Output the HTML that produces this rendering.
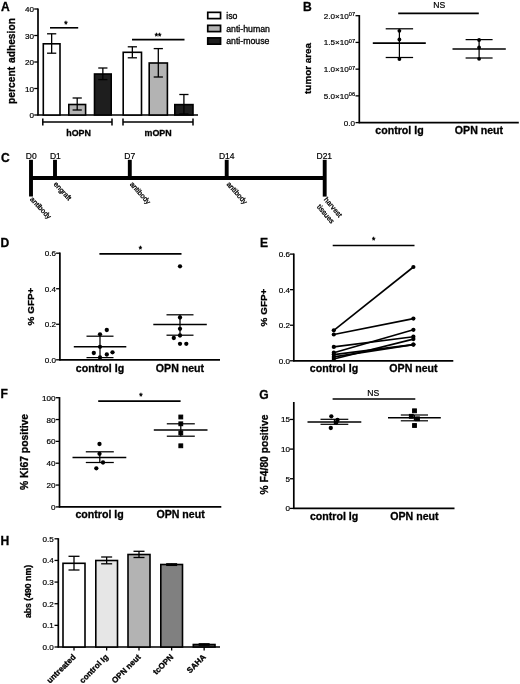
<!DOCTYPE html>
<html><head><meta charset="utf-8"><title>Figure</title>
<style>
html,body{margin:0;padding:0;background:#fff;}
svg{display:block;font-family:"Liberation Sans",sans-serif;}
svg line,svg rect{stroke:#000;}
svg text{fill:#000;stroke:#000;stroke-width:0.2px;}
svg text.b{stroke-width:0.3px;}
</style></head>
<body>
<svg width="520" height="684" viewBox="0 0 520 684">
<rect x="0" y="0" width="520" height="684" fill="#fff" stroke="none" style="stroke:none"/>
<text x="0.90" y="10.90" font-size="12.1" text-anchor="start" font-weight="bold" class="b" >A</text>
<line x1="38.00" y1="8.40" x2="38.00" y2="115.60" stroke-width="1.7" />
<line x1="37.40" y1="115.00" x2="198.00" y2="115.00" stroke-width="1.7" />
<line x1="34.20" y1="115.00" x2="38.00" y2="115.00" stroke-width="1.3" />
<text x="34.10" y="118.00" font-size="8.1" text-anchor="end" >0</text>
<line x1="34.20" y1="88.50" x2="38.00" y2="88.50" stroke-width="1.3" />
<text x="34.10" y="91.50" font-size="8.1" text-anchor="end" >10</text>
<line x1="34.20" y1="62.00" x2="38.00" y2="62.00" stroke-width="1.3" />
<text x="34.10" y="65.00" font-size="8.1" text-anchor="end" >20</text>
<line x1="34.20" y1="35.50" x2="38.00" y2="35.50" stroke-width="1.3" />
<text x="34.10" y="38.50" font-size="8.1" text-anchor="end" >30</text>
<line x1="34.20" y1="9.00" x2="38.00" y2="9.00" stroke-width="1.3" />
<text x="34.10" y="12.00" font-size="8.1" text-anchor="end" >40</text>
<text x="14.90" y="61.00" font-size="10.25" text-anchor="middle" font-weight="bold" class="b" transform="rotate(-90 14.90 61.00)" word-spacing="1">percent adhesion</text>
<rect x="43.30" y="43.80" width="16.70" height="71.20" fill="#fff" stroke-width="1.6"/>
<line x1="51.65" y1="33.80" x2="51.65" y2="53.20" stroke-width="1.3" />
<line x1="47.05" y1="33.80" x2="56.25" y2="33.80" stroke-width="1.3" />
<line x1="47.05" y1="53.20" x2="56.25" y2="53.20" stroke-width="1.3" />
<rect x="68.80" y="104.50" width="16.80" height="10.50" fill="#b3b3b3" stroke-width="1.6"/>
<line x1="77.20" y1="98.00" x2="77.20" y2="110.00" stroke-width="1.3" />
<line x1="72.60" y1="98.00" x2="81.80" y2="98.00" stroke-width="1.3" />
<line x1="72.60" y1="110.00" x2="81.80" y2="110.00" stroke-width="1.3" />
<rect x="94.50" y="74.00" width="16.70" height="41.00" fill="#1e1e1e" stroke-width="1.6"/>
<line x1="102.85" y1="68.00" x2="102.85" y2="79.60" stroke-width="1.3" />
<line x1="98.25" y1="68.00" x2="107.45" y2="68.00" stroke-width="1.3" />
<line x1="98.25" y1="79.60" x2="107.45" y2="79.60" stroke-width="1.3" />
<rect x="123.20" y="52.30" width="18.30" height="62.70" fill="#fff" stroke-width="1.6"/>
<line x1="132.35" y1="46.80" x2="132.35" y2="57.80" stroke-width="1.3" />
<line x1="127.75" y1="46.80" x2="136.95" y2="46.80" stroke-width="1.3" />
<line x1="127.75" y1="57.80" x2="136.95" y2="57.80" stroke-width="1.3" />
<rect x="149.20" y="63.00" width="18.20" height="52.00" fill="#b3b3b3" stroke-width="1.6"/>
<line x1="158.30" y1="48.60" x2="158.30" y2="77.00" stroke-width="1.3" />
<line x1="153.70" y1="48.60" x2="162.90" y2="48.60" stroke-width="1.3" />
<line x1="153.70" y1="77.00" x2="162.90" y2="77.00" stroke-width="1.3" />
<rect x="174.80" y="104.60" width="18.20" height="10.40" fill="#1e1e1e" stroke-width="1.6"/>
<line x1="183.90" y1="94.50" x2="183.90" y2="114.00" stroke-width="1.3" />
<line x1="179.30" y1="94.50" x2="188.50" y2="94.50" stroke-width="1.3" />
<line x1="179.30" y1="114.00" x2="188.50" y2="114.00" stroke-width="1.3" />
<line x1="50.00" y1="27.80" x2="78.20" y2="27.80" stroke-width="1.6" />
<text x="66.00" y="27.30" font-size="8.5" text-anchor="middle" style="stroke-width:0.45px">*</text>
<line x1="132.00" y1="39.60" x2="184.50" y2="39.60" stroke-width="1.6" />
<text x="158.00" y="38.90" font-size="8.5" text-anchor="middle" style="stroke-width:0.45px">**</text>
<line x1="42.80" y1="122.00" x2="112.00" y2="122.00" stroke-width="1.5" />
<line x1="42.80" y1="118.50" x2="42.80" y2="125.50" stroke-width="1.5" />
<line x1="112.00" y1="118.50" x2="112.00" y2="125.50" stroke-width="1.5" />
<line x1="123.00" y1="122.00" x2="193.00" y2="122.00" stroke-width="1.5" />
<line x1="123.00" y1="118.50" x2="123.00" y2="125.50" stroke-width="1.5" />
<line x1="193.00" y1="118.50" x2="193.00" y2="125.50" stroke-width="1.5" />
<text x="78.60" y="135.80" font-size="8.9" text-anchor="middle" font-weight="bold" class="b" >hOPN</text>
<text x="158.10" y="135.80" font-size="8.9" text-anchor="middle" font-weight="bold" class="b" >mOPN</text>
<rect x="207.75" y="12.35" width="12.80" height="6.25" fill="#fff" stroke-width="1.7"/>
<text x="226.20" y="18.75" font-size="8.75" text-anchor="start" style="stroke-width:0.3px">iso</text>
<rect x="207.75" y="25.35" width="12.80" height="6.25" fill="#b3b3b3" stroke-width="1.7"/>
<text x="226.20" y="31.75" font-size="8.75" text-anchor="start" style="stroke-width:0.3px">anti-human</text>
<rect x="207.75" y="37.90" width="12.80" height="6.25" fill="#1e1e1e" stroke-width="1.7"/>
<text x="226.20" y="44.30" font-size="8.75" text-anchor="start" style="stroke-width:0.3px">anti-mouse</text>
<text x="302.90" y="10.50" font-size="12.1" text-anchor="start" font-weight="bold" class="b" >B</text>
<line x1="359.30" y1="15.10" x2="359.30" y2="123.20" stroke-width="1.7" />
<line x1="358.70" y1="122.60" x2="518.80" y2="122.60" stroke-width="1.7" />
<line x1="355.50" y1="122.60" x2="359.30" y2="122.60" stroke-width="1.3" />
<text x="355.00" y="125.60" font-size="8.1" text-anchor="end" >0.0</text>
<line x1="355.50" y1="95.88" x2="359.30" y2="95.88" stroke-width="1.3" />
<text x="355.00" y="98.88" font-size="8.1" text-anchor="end" >5.0×10<tspan font-size="5.6" dy="-2.6">06</tspan></text>
<line x1="355.50" y1="69.15" x2="359.30" y2="69.15" stroke-width="1.3" />
<text x="355.00" y="72.15" font-size="8.1" text-anchor="end" >1.0×10<tspan font-size="5.6" dy="-2.6">07</tspan></text>
<line x1="355.50" y1="42.42" x2="359.30" y2="42.42" stroke-width="1.3" />
<text x="355.00" y="45.42" font-size="8.1" text-anchor="end" >1.5×10<tspan font-size="5.6" dy="-2.6">07</tspan></text>
<line x1="355.50" y1="15.70" x2="359.30" y2="15.70" stroke-width="1.3" />
<text x="355.00" y="18.70" font-size="8.1" text-anchor="end" >2.0×10<tspan font-size="5.6" dy="-2.6">07</tspan></text>
<text x="311.30" y="68.40" font-size="9.9" text-anchor="middle" font-weight="bold" class="b" transform="rotate(-90 311.30 68.40)" >tumor area</text>
<line x1="398.20" y1="13.40" x2="478.80" y2="13.40" stroke-width="1.6" />
<text x="439.30" y="7.50" font-size="8.6" text-anchor="middle" >NS</text>
<line x1="372.80" y1="43.10" x2="425.80" y2="43.10" stroke-width="1.6" />
<line x1="399.40" y1="28.80" x2="399.40" y2="57.50" stroke-width="1.25" />
<line x1="385.70" y1="28.80" x2="413.10" y2="28.80" stroke-width="1.25" />
<line x1="385.70" y1="57.50" x2="413.10" y2="57.50" stroke-width="1.25" />
<circle cx="399.40" cy="30.80" r="1.9" fill="#000" stroke="none"/>
<circle cx="399.40" cy="39.50" r="1.9" fill="#000" stroke="none"/>
<circle cx="399.40" cy="59.00" r="1.9" fill="#000" stroke="none"/>
<line x1="452.50" y1="49.00" x2="505.80" y2="49.00" stroke-width="1.6" />
<line x1="479.10" y1="39.60" x2="479.10" y2="58.00" stroke-width="1.25" />
<line x1="465.60" y1="39.60" x2="492.60" y2="39.60" stroke-width="1.25" />
<line x1="465.60" y1="58.00" x2="492.60" y2="58.00" stroke-width="1.25" />
<circle cx="479.10" cy="40.00" r="1.9" fill="#000" stroke="none"/>
<circle cx="479.10" cy="47.50" r="1.9" fill="#000" stroke="none"/>
<circle cx="479.10" cy="58.80" r="1.9" fill="#000" stroke="none"/>
<text x="399.50" y="133.60" font-size="10.6" text-anchor="middle" font-weight="bold" class="b" >control Ig</text>
<text x="479.00" y="133.60" font-size="10.6" text-anchor="middle" font-weight="bold" class="b" >OPN neut</text>
<text x="0.90" y="162.00" font-size="12.1" text-anchor="start" font-weight="bold" class="b" >C</text>
<line x1="31.00" y1="159.80" x2="31.00" y2="196.50" stroke-width="3.9" />
<line x1="31.00" y1="178.00" x2="324.70" y2="178.00" stroke-width="3.9" />
<line x1="324.70" y1="159.80" x2="324.70" y2="196.60" stroke-width="3.9" />
<line x1="55.00" y1="159.80" x2="55.00" y2="178.00" stroke-width="3.9" />
<line x1="129.80" y1="159.80" x2="129.80" y2="178.00" stroke-width="3.9" />
<line x1="226.70" y1="159.80" x2="226.70" y2="178.00" stroke-width="3.9" />
<text x="31.20" y="158.60" font-size="8.5" text-anchor="middle" >D0</text>
<text x="55.40" y="158.60" font-size="8.5" text-anchor="middle" >D1</text>
<text x="129.80" y="158.60" font-size="8.5" text-anchor="middle" >D7</text>
<text x="226.70" y="158.60" font-size="8.5" text-anchor="middle" >D14</text>
<text x="324.30" y="158.60" font-size="8.5" text-anchor="middle" >D21</text>
<text x="29.60" y="199.60" font-size="7.2" text-anchor="start" transform="rotate(47 29.60 199.60)" style="stroke-width:0.3px">antibody</text>
<text x="53.20" y="184.60" font-size="7.2" text-anchor="start" transform="rotate(47 53.20 184.60)" style="stroke-width:0.3px">engraft</text>
<text x="129.40" y="184.40" font-size="7.2" text-anchor="start" transform="rotate(48.5 129.40 184.40)" style="stroke-width:0.3px">antibody</text>
<text x="226.20" y="184.40" font-size="7.2" text-anchor="start" transform="rotate(48.5 226.20 184.40)" style="stroke-width:0.3px">antibody</text>
<text x="323.60" y="199.80" font-size="7.2" text-anchor="start" transform="rotate(49.5 323.60 199.80)" style="stroke-width:0.3px">harvest</text>
<text x="316.60" y="207.00" font-size="7.2" text-anchor="start" transform="rotate(49.5 316.60 207.00)" style="stroke-width:0.3px">tissues</text>
<text x="0.50" y="247.00" font-size="12.1" text-anchor="start" font-weight="bold" class="b" >D</text>
<line x1="59.90" y1="252.60" x2="59.90" y2="360.40" stroke-width="1.7" />
<line x1="59.30" y1="359.80" x2="220.00" y2="359.80" stroke-width="1.7" />
<line x1="56.10" y1="359.80" x2="59.90" y2="359.80" stroke-width="1.3" />
<text x="56.00" y="362.80" font-size="8.1" text-anchor="end" >0.0</text>
<line x1="56.10" y1="324.27" x2="59.90" y2="324.27" stroke-width="1.3" />
<text x="56.00" y="327.27" font-size="8.1" text-anchor="end" >0.2</text>
<line x1="56.10" y1="288.73" x2="59.90" y2="288.73" stroke-width="1.3" />
<text x="56.00" y="291.73" font-size="8.1" text-anchor="end" >0.4</text>
<line x1="56.10" y1="253.20" x2="59.90" y2="253.20" stroke-width="1.3" />
<text x="56.00" y="256.20" font-size="8.1" text-anchor="end" >0.6</text>
<text x="34.00" y="306.50" font-size="9.95" text-anchor="middle" font-weight="bold" class="b" transform="rotate(-90 34.00 306.50)" >% GFP+</text>
<line x1="99.40" y1="253.90" x2="181.50" y2="253.90" stroke-width="1.6" />
<text x="140.30" y="251.50" font-size="8.5" text-anchor="middle" style="stroke-width:0.45px">*</text>
<line x1="73.80" y1="346.80" x2="126.30" y2="346.80" stroke-width="1.6" />
<line x1="100.00" y1="336.20" x2="100.00" y2="357.60" stroke-width="1.25" />
<line x1="86.50" y1="336.20" x2="113.50" y2="336.20" stroke-width="1.25" />
<line x1="86.50" y1="357.60" x2="113.50" y2="357.60" stroke-width="1.25" />
<circle cx="100.00" cy="334.30" r="2.15" fill="#000" stroke="none"/>
<circle cx="106.80" cy="330.00" r="2.15" fill="#000" stroke="none"/>
<circle cx="100.00" cy="346.80" r="2.15" fill="#000" stroke="none"/>
<circle cx="93.80" cy="353.00" r="2.15" fill="#000" stroke="none"/>
<circle cx="106.80" cy="354.50" r="2.15" fill="#000" stroke="none"/>
<circle cx="112.50" cy="352.30" r="2.15" fill="#000" stroke="none"/>
<circle cx="100.00" cy="357.40" r="2.15" fill="#000" stroke="none"/>
<line x1="153.30" y1="324.50" x2="206.80" y2="324.50" stroke-width="1.6" />
<line x1="180.00" y1="314.80" x2="180.00" y2="335.20" stroke-width="1.25" />
<line x1="166.50" y1="314.80" x2="193.50" y2="314.80" stroke-width="1.25" />
<line x1="166.50" y1="335.20" x2="193.50" y2="335.20" stroke-width="1.25" />
<circle cx="180.00" cy="266.30" r="2.15" fill="#000" stroke="none"/>
<circle cx="180.00" cy="317.50" r="2.15" fill="#000" stroke="none"/>
<circle cx="180.00" cy="328.80" r="2.15" fill="#000" stroke="none"/>
<circle cx="180.00" cy="335.50" r="2.15" fill="#000" stroke="none"/>
<circle cx="173.80" cy="338.00" r="2.15" fill="#000" stroke="none"/>
<circle cx="180.00" cy="343.80" r="2.15" fill="#000" stroke="none"/>
<circle cx="186.30" cy="343.80" r="2.15" fill="#000" stroke="none"/>
<text x="100.00" y="371.50" font-size="10.6" text-anchor="middle" font-weight="bold" class="b" >control Ig</text>
<text x="180.00" y="371.50" font-size="10.6" text-anchor="middle" font-weight="bold" class="b" >OPN neut</text>
<text x="260.00" y="247.30" font-size="12.1" text-anchor="start" font-weight="bold" class="b" >E</text>
<line x1="293.80" y1="253.50" x2="293.80" y2="361.40" stroke-width="1.7" />
<line x1="293.20" y1="360.80" x2="453.30" y2="360.80" stroke-width="1.7" />
<line x1="290.00" y1="360.80" x2="293.80" y2="360.80" stroke-width="1.3" />
<text x="289.90" y="363.80" font-size="8.1" text-anchor="end" >0.0</text>
<line x1="290.00" y1="325.23" x2="293.80" y2="325.23" stroke-width="1.3" />
<text x="289.90" y="328.23" font-size="8.1" text-anchor="end" >0.2</text>
<line x1="290.00" y1="289.67" x2="293.80" y2="289.67" stroke-width="1.3" />
<text x="289.90" y="292.67" font-size="8.1" text-anchor="end" >0.4</text>
<line x1="290.00" y1="254.10" x2="293.80" y2="254.10" stroke-width="1.3" />
<text x="289.90" y="257.10" font-size="8.1" text-anchor="end" >0.6</text>
<text x="266.90" y="307.50" font-size="9.95" text-anchor="middle" font-weight="bold" class="b" transform="rotate(-90 266.90 307.50)" >% GFP+</text>
<line x1="332.70" y1="245.50" x2="414.50" y2="245.50" stroke-width="1.6" />
<text x="373.60" y="243.20" font-size="8.5" text-anchor="middle" style="stroke-width:0.45px">*</text>
<line x1="333.80" y1="330.30" x2="413.40" y2="267.00" stroke-width="1.6" />
<circle cx="333.80" cy="330.30" r="2.1" fill="#000" stroke="none"/>
<circle cx="413.40" cy="267.00" r="2.1" fill="#000" stroke="none"/>
<line x1="333.80" y1="334.50" x2="413.40" y2="318.60" stroke-width="1.6" />
<circle cx="333.80" cy="334.50" r="2.1" fill="#000" stroke="none"/>
<circle cx="413.40" cy="318.60" r="2.1" fill="#000" stroke="none"/>
<line x1="333.80" y1="346.90" x2="413.40" y2="336.70" stroke-width="1.6" />
<circle cx="333.80" cy="346.90" r="2.1" fill="#000" stroke="none"/>
<circle cx="413.40" cy="336.70" r="2.1" fill="#000" stroke="none"/>
<line x1="333.80" y1="352.70" x2="413.40" y2="329.80" stroke-width="1.6" />
<circle cx="333.80" cy="352.70" r="2.1" fill="#000" stroke="none"/>
<circle cx="413.40" cy="329.80" r="2.1" fill="#000" stroke="none"/>
<line x1="333.80" y1="354.60" x2="413.40" y2="344.60" stroke-width="1.6" />
<circle cx="333.80" cy="354.60" r="2.1" fill="#000" stroke="none"/>
<circle cx="413.40" cy="344.60" r="2.1" fill="#000" stroke="none"/>
<line x1="333.80" y1="356.90" x2="413.40" y2="344.60" stroke-width="1.6" />
<circle cx="333.80" cy="356.90" r="2.1" fill="#000" stroke="none"/>
<circle cx="413.40" cy="344.60" r="2.1" fill="#000" stroke="none"/>
<line x1="333.80" y1="359.00" x2="413.40" y2="339.10" stroke-width="1.6" />
<circle cx="333.80" cy="359.00" r="2.1" fill="#000" stroke="none"/>
<circle cx="413.40" cy="339.10" r="2.1" fill="#000" stroke="none"/>
<text x="334.00" y="372.00" font-size="10.6" text-anchor="middle" font-weight="bold" class="b" >control Ig</text>
<text x="413.50" y="372.00" font-size="10.6" text-anchor="middle" font-weight="bold" class="b" >OPN neut</text>
<text x="0.60" y="398.20" font-size="12.1" text-anchor="start" font-weight="bold" class="b" >F</text>
<line x1="59.50" y1="397.10" x2="59.50" y2="507.50" stroke-width="1.7" />
<line x1="58.90" y1="506.90" x2="221.30" y2="506.90" stroke-width="1.7" />
<line x1="55.70" y1="506.90" x2="59.50" y2="506.90" stroke-width="1.3" />
<text x="55.60" y="509.90" font-size="8.1" text-anchor="end" >0</text>
<line x1="55.70" y1="485.06" x2="59.50" y2="485.06" stroke-width="1.3" />
<text x="55.60" y="488.06" font-size="8.1" text-anchor="end" >20</text>
<line x1="55.70" y1="463.22" x2="59.50" y2="463.22" stroke-width="1.3" />
<text x="55.60" y="466.22" font-size="8.1" text-anchor="end" >40</text>
<line x1="55.70" y1="441.38" x2="59.50" y2="441.38" stroke-width="1.3" />
<text x="55.60" y="444.38" font-size="8.1" text-anchor="end" >60</text>
<line x1="55.70" y1="419.54" x2="59.50" y2="419.54" stroke-width="1.3" />
<text x="55.60" y="422.54" font-size="8.1" text-anchor="end" >80</text>
<line x1="55.70" y1="397.70" x2="59.50" y2="397.70" stroke-width="1.3" />
<text x="55.60" y="400.70" font-size="8.1" text-anchor="end" >100</text>
<text x="27.50" y="452.00" font-size="10.4" text-anchor="middle" font-weight="bold" class="b" transform="rotate(-90 27.50 452.00)" >% Ki67 positive</text>
<line x1="98.20" y1="401.10" x2="180.60" y2="401.10" stroke-width="1.6" />
<text x="140.90" y="399.20" font-size="8.5" text-anchor="middle" style="stroke-width:0.45px">*</text>
<line x1="72.50" y1="457.50" x2="126.30" y2="457.50" stroke-width="1.5" />
<line x1="99.80" y1="451.80" x2="99.80" y2="462.50" stroke-width="1.25" />
<line x1="85.80" y1="451.80" x2="113.80" y2="451.80" stroke-width="1.25" />
<line x1="85.80" y1="462.50" x2="113.80" y2="462.50" stroke-width="1.25" />
<circle cx="99.50" cy="444.00" r="2.15" fill="#000" stroke="none"/>
<circle cx="99.50" cy="453.80" r="2.15" fill="#000" stroke="none"/>
<circle cx="103.00" cy="462.50" r="2.15" fill="#000" stroke="none"/>
<circle cx="96.30" cy="468.30" r="2.15" fill="#000" stroke="none"/>
<line x1="153.80" y1="430.00" x2="207.50" y2="430.00" stroke-width="1.5" />
<line x1="180.80" y1="423.80" x2="180.80" y2="436.20" stroke-width="1.25" />
<line x1="166.80" y1="423.80" x2="194.80" y2="423.80" stroke-width="1.25" />
<line x1="166.80" y1="436.20" x2="194.80" y2="436.20" stroke-width="1.25" />
<rect x="178.90" y="415.10" width="3.8" height="3.8" fill="#000" stroke="none"/>
<rect x="178.90" y="421.90" width="3.8" height="3.8" fill="#000" stroke="none"/>
<rect x="178.90" y="431.10" width="3.8" height="3.8" fill="#000" stroke="none"/>
<rect x="178.90" y="443.90" width="3.8" height="3.8" fill="#000" stroke="none"/>
<text x="99.60" y="518.20" font-size="10.6" text-anchor="middle" font-weight="bold" class="b" >control Ig</text>
<text x="180.60" y="518.20" font-size="10.6" text-anchor="middle" font-weight="bold" class="b" >OPN neut</text>
<text x="259.30" y="398.60" font-size="12.1" text-anchor="start" font-weight="bold" class="b" >G</text>
<line x1="293.80" y1="402.00" x2="293.80" y2="509.00" stroke-width="1.7" />
<line x1="293.20" y1="508.40" x2="454.50" y2="508.40" stroke-width="1.7" />
<line x1="290.00" y1="508.40" x2="293.80" y2="508.40" stroke-width="1.3" />
<text x="289.90" y="511.40" font-size="8.1" text-anchor="end" >0</text>
<line x1="290.00" y1="478.75" x2="293.80" y2="478.75" stroke-width="1.3" />
<text x="289.90" y="481.75" font-size="8.1" text-anchor="end" >5</text>
<line x1="290.00" y1="449.10" x2="293.80" y2="449.10" stroke-width="1.3" />
<text x="289.90" y="452.10" font-size="8.1" text-anchor="end" >10</text>
<line x1="290.00" y1="419.45" x2="293.80" y2="419.45" stroke-width="1.3" />
<text x="289.90" y="422.45" font-size="8.1" text-anchor="end" >15</text>
<text x="268.20" y="454.50" font-size="10.25" text-anchor="middle" font-weight="bold" class="b" transform="rotate(-90 268.20 454.50)" >% F4/80 positive</text>
<line x1="332.60" y1="399.00" x2="415.30" y2="399.00" stroke-width="1.6" />
<text x="373.20" y="395.80" font-size="8.6" text-anchor="middle" >NS</text>
<line x1="307.50" y1="422.00" x2="361.30" y2="422.00" stroke-width="1.4" />
<line x1="320.50" y1="419.30" x2="348.30" y2="419.30" stroke-width="1.2" />
<line x1="320.50" y1="424.30" x2="348.30" y2="424.30" stroke-width="1.2" />
<line x1="334.40" y1="419.30" x2="334.40" y2="424.30" stroke-width="1.2" />
<circle cx="331.30" cy="416.30" r="2.15" fill="#000" stroke="none"/>
<circle cx="337.50" cy="420.00" r="2.15" fill="#000" stroke="none"/>
<circle cx="336.30" cy="422.50" r="2.15" fill="#000" stroke="none"/>
<circle cx="330.80" cy="428.00" r="2.15" fill="#000" stroke="none"/>
<line x1="388.00" y1="417.80" x2="440.80" y2="417.80" stroke-width="1.4" />
<line x1="400.80" y1="415.00" x2="428.00" y2="415.00" stroke-width="1.2" />
<line x1="400.80" y1="420.80" x2="428.00" y2="420.80" stroke-width="1.2" />
<line x1="414.40" y1="415.00" x2="414.40" y2="420.80" stroke-width="1.2" />
<rect x="412.60" y="408.90" width="3.8" height="3.8" fill="#000" stroke="none"/>
<rect x="409.40" y="414.40" width="3.8" height="3.8" fill="#000" stroke="none"/>
<rect x="415.60" y="416.90" width="3.8" height="3.8" fill="#000" stroke="none"/>
<rect x="412.60" y="423.60" width="3.8" height="3.8" fill="#000" stroke="none"/>
<text x="334.10" y="520.30" font-size="10.6" text-anchor="middle" font-weight="bold" class="b" >control Ig</text>
<text x="414.40" y="520.30" font-size="10.6" text-anchor="middle" font-weight="bold" class="b" >OPN neut</text>
<text x="0.60" y="545.40" font-size="12.1" text-anchor="start" font-weight="bold" class="b" >H</text>
<line x1="58.30" y1="538.20" x2="58.30" y2="647.60" stroke-width="1.7" />
<line x1="57.70" y1="647.00" x2="220.00" y2="647.00" stroke-width="1.7" />
<line x1="54.50" y1="647.00" x2="58.30" y2="647.00" stroke-width="1.3" />
<text x="53.80" y="650.00" font-size="8.1" text-anchor="end" >0.0</text>
<line x1="54.50" y1="625.36" x2="58.30" y2="625.36" stroke-width="1.3" />
<text x="53.80" y="628.36" font-size="8.1" text-anchor="end" >0.1</text>
<line x1="54.50" y1="603.72" x2="58.30" y2="603.72" stroke-width="1.3" />
<text x="53.80" y="606.72" font-size="8.1" text-anchor="end" >0.2</text>
<line x1="54.50" y1="582.08" x2="58.30" y2="582.08" stroke-width="1.3" />
<text x="53.80" y="585.08" font-size="8.1" text-anchor="end" >0.3</text>
<line x1="54.50" y1="560.44" x2="58.30" y2="560.44" stroke-width="1.3" />
<text x="53.80" y="563.44" font-size="8.1" text-anchor="end" >0.4</text>
<line x1="54.50" y1="538.80" x2="58.30" y2="538.80" stroke-width="1.3" />
<text x="53.80" y="541.80" font-size="8.1" text-anchor="end" >0.5</text>
<text x="30.60" y="591.50" font-size="8.7" text-anchor="middle" font-weight="bold" class="b" transform="rotate(-90 30.60 591.50)" >abs (490 nm)</text>
<rect x="63.00" y="563.30" width="22.00" height="83.70" fill="#fff" stroke-width="1.6"/>
<line x1="74.00" y1="556.30" x2="74.00" y2="570.00" stroke-width="1.3" />
<line x1="68.50" y1="556.30" x2="79.50" y2="556.30" stroke-width="1.3" />
<line x1="68.50" y1="570.00" x2="79.50" y2="570.00" stroke-width="1.3" />
<line x1="74.00" y1="647.00" x2="74.00" y2="650.50" stroke-width="1.3" />
<text x="76.20" y="657.60" font-size="8.1" text-anchor="end" font-weight="bold" class="b" transform="rotate(-45 76.20 657.60)" >untreated</text>
<rect x="95.80" y="560.50" width="21.70" height="86.50" fill="#e6e6e6" stroke-width="1.6"/>
<line x1="106.65" y1="557.00" x2="106.65" y2="563.80" stroke-width="1.3" />
<line x1="101.15" y1="557.00" x2="112.15" y2="557.00" stroke-width="1.3" />
<line x1="101.15" y1="563.80" x2="112.15" y2="563.80" stroke-width="1.3" />
<line x1="106.65" y1="647.00" x2="106.65" y2="650.50" stroke-width="1.3" />
<text x="108.85" y="657.60" font-size="8.1" text-anchor="end" font-weight="bold" class="b" transform="rotate(-45 108.85 657.60)" >control Ig</text>
<rect x="128.00" y="554.50" width="22.00" height="92.50" fill="#b3b3b3" stroke-width="1.6"/>
<line x1="139.00" y1="551.30" x2="139.00" y2="557.50" stroke-width="1.3" />
<line x1="133.50" y1="551.30" x2="144.50" y2="551.30" stroke-width="1.3" />
<line x1="133.50" y1="557.50" x2="144.50" y2="557.50" stroke-width="1.3" />
<line x1="139.00" y1="647.00" x2="139.00" y2="650.50" stroke-width="1.3" />
<text x="141.20" y="657.60" font-size="8.1" text-anchor="end" font-weight="bold" class="b" transform="rotate(-45 141.20 657.60)" >OPN neut</text>
<rect x="160.80" y="564.50" width="21.70" height="82.50" fill="#808080" stroke-width="1.6"/>
<line x1="171.65" y1="563.80" x2="171.65" y2="565.40" stroke-width="1.3" />
<line x1="166.15" y1="563.80" x2="177.15" y2="563.80" stroke-width="1.3" />
<line x1="166.15" y1="565.40" x2="177.15" y2="565.40" stroke-width="1.3" />
<line x1="171.65" y1="647.00" x2="171.65" y2="650.50" stroke-width="1.3" />
<text x="173.85" y="657.60" font-size="8.1" text-anchor="end" font-weight="bold" class="b" transform="rotate(-45 173.85 657.60)" >tcOPN</text>
<rect x="193.30" y="644.50" width="21.70" height="2.50" fill="#4d4d4d" stroke-width="1.6"/>
<line x1="204.15" y1="643.80" x2="204.15" y2="645.20" stroke-width="1.3" />
<line x1="198.65" y1="643.80" x2="209.65" y2="643.80" stroke-width="1.3" />
<line x1="198.65" y1="645.20" x2="209.65" y2="645.20" stroke-width="1.3" />
<line x1="204.15" y1="647.00" x2="204.15" y2="650.50" stroke-width="1.3" />
<text x="206.35" y="657.60" font-size="8.1" text-anchor="end" font-weight="bold" class="b" transform="rotate(-45 206.35 657.60)" >SAHA</text>
</svg>
</body></html>
